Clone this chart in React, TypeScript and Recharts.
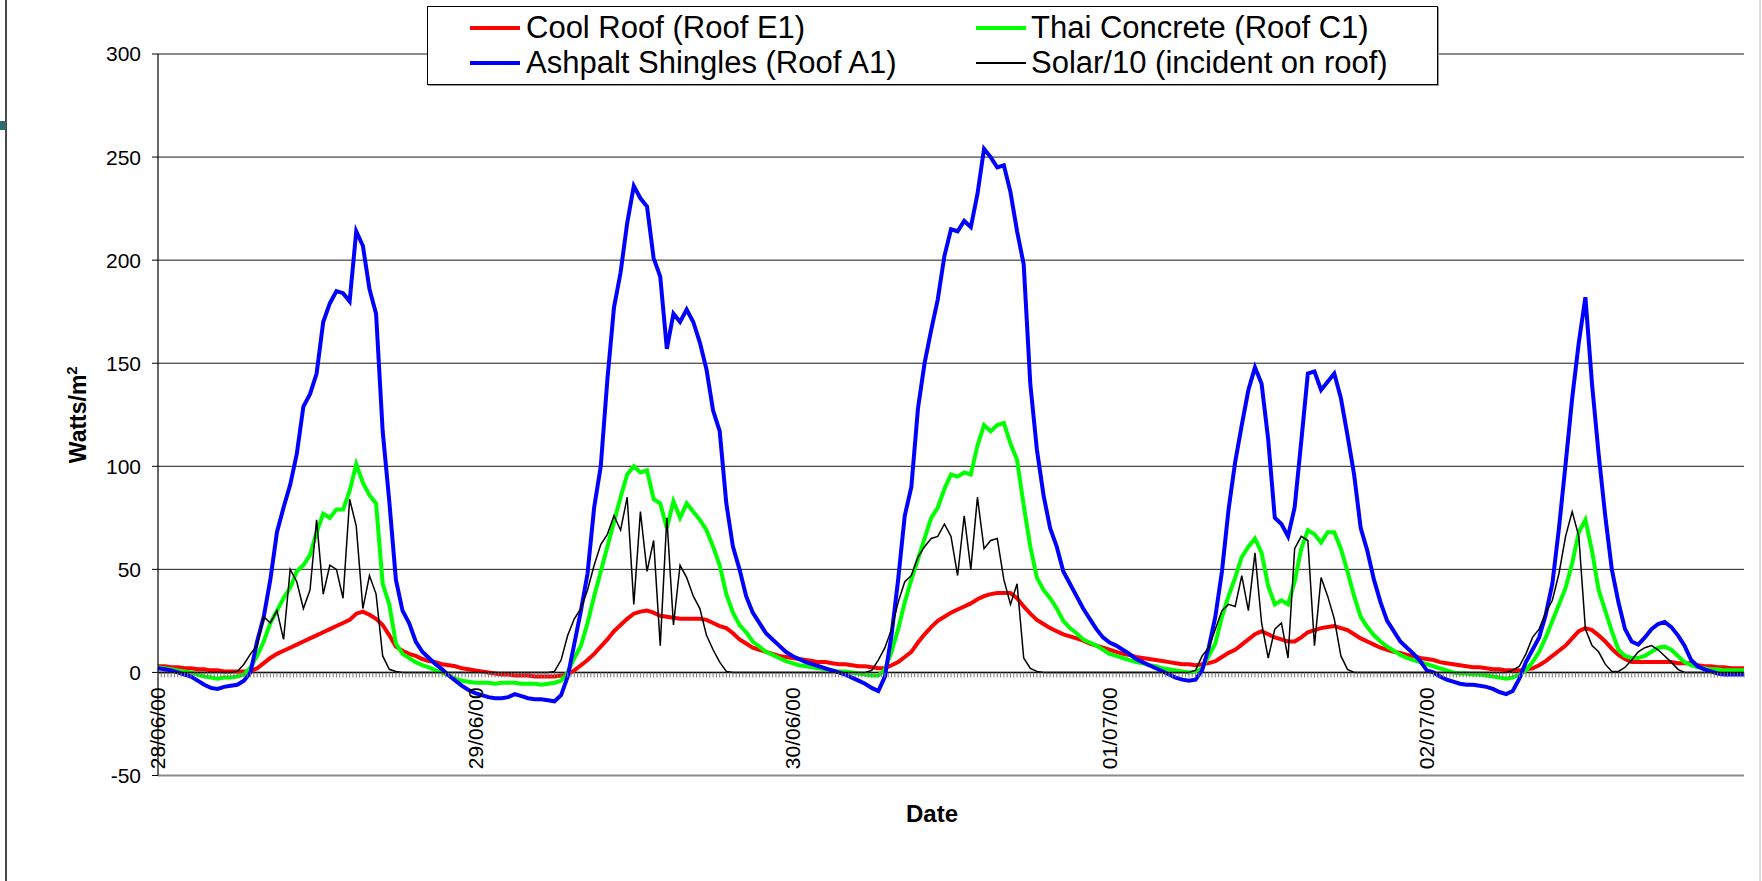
import {
  CartesianGrid,
  Legend,
  Line,
  LineChart,
  ReferenceLine,
  XAxis,
  YAxis,
} from "recharts";

// half-hourly readings, 28/06/00 00:00 -> 03/07/00 00:00
const dayLabels = ["28/06/00", "29/06/00", "30/06/00", "01/07/00", "02/07/00"];
const stepsPerDay = 48;
const yTicks = [-50, 0, 50, 100, 150, 200, 250, 300];
const seriesNames = [
  "Cool Roof (Roof E1)",
  "Thai Concrete (Roof C1)",
  "Ashpalt Shingles (Roof A1)",
  "Solar/10 (incident on roof)",
];

const coolRoof = [
  3, 3, 2.5, 2.5, 2, 2, 1.5, 1.5, 1, 1, 0.5, 0.5, 0.5, 0.5, 0.5, 2, 4.5, 7, 9, 10.5, 12, 13.5, 15, 16.5,
  18, 19.5, 21, 22.5, 24, 25.5, 28.5, 29.5, 28, 26, 23, 18, 12.5, 10.5, 9, 8, 6.5, 5.5, 5, 4, 3.5, 3, 2, 1.5,
  1, 0.5, 0, -0.5, -1, -1, -1.5, -1.5, -1.5, -2, -2, -2, -2, -1.5, -1, 1, 3.5, 6, 9, 12.5, 16, 20, 23, 26,
  28.5, 29.5, 30, 29, 27.5, 27, 26.5, 26, 26, 26, 26, 25.5, 24, 22.5, 21.5, 19, 16, 14, 12, 11, 10, 9, 8, 7.5,
  7, 6.5, 6, 5.5, 5, 5, 4.5, 4, 4, 3.5, 3, 3, 2.5, 2, 2, 3.5, 5, 7.5, 10, 14.5, 18.5, 22, 25, 27,
  29, 30.5, 32, 33.5, 35.5, 37, 38, 38.5, 38.5, 38.5, 36, 32, 28.5, 25.5, 23.5, 21.5, 20, 18.5, 17.5, 16.5, 15.5, 14, 13, 12,
  11, 10, 9, 8.5, 7.5, 7, 6.5, 6, 5.5, 5, 4.5, 4, 4, 3.5, 4, 4.5, 5.5, 7.5, 9.5, 11, 13.5, 16, 18.5, 20,
  18.5, 17, 16, 15, 15, 17, 19.5, 20.5, 21.5, 22, 22.5, 21.5, 20.5, 18.5, 16.5, 15, 13.5, 12, 11, 10, 9.5, 8.5, 8, 7,
  6.5, 6, 5, 4.5, 4, 3.5, 3, 2.5, 2.5, 2, 1.5, 1.5, 1, 1, 1, 1.5, 2, 3.5, 5.5, 8, 10.5, 13, 16.5, 20,
  21.5, 20.5, 18, 15, 11.5, 8.5, 6.5, 5, 5, 5, 5, 5, 5, 5, 4.5, 4.5, 4.5, 3.5, 3, 3, 2.5, 2.5, 2, 2,
  2,
];

const thaiConcrete = [
  2.5, 2, 1.5, 1, 0.5, 0, -1, -2, -2.5, -3, -2.5, -2.5, -2, -1, 2.5, 8, 15, 24, 30, 36, 41, 49, 52, 57,
  68, 77, 75, 79, 79, 88, 101, 92, 86, 82, 43, 33, 14, 9, 7, 5, 3.5, 2.5, 1, 0, -1.5, -3, -4, -4.5,
  -5, -5, -5, -5.5, -5, -5, -5, -5.5, -5.5, -5.5, -6, -5.5, -5, -4, 0, 7, 13, 24, 37, 49, 61, 73, 85, 96,
  100, 97, 98, 84, 82, 70, 83, 75, 82, 78, 74, 69, 61, 52, 38, 29, 23, 19.5, 15, 12.5, 10, 8.5, 7, 5.5,
  4.5, 3.5, 3, 2.5, 2, 1.5, 1, 0.5, 0.5, 0, -0.5, -1, -1.5, -1.5, 1.5, 10, 21, 34, 45, 55, 65, 75, 80, 89,
  96, 95, 97, 96, 110, 120, 117, 120, 121, 111, 103, 81, 61, 46, 40, 36, 31, 25, 21.5, 19, 16, 14.5, 13, 11,
  9, 8, 7, 6, 5, 4.5, 3.5, 3, 2, 1.5, 1, 0.5, 0, 0.5, 2, 8, 14, 27, 37, 46, 56, 61, 65, 58,
  42, 33, 35, 33, 44, 60, 69, 67, 63, 68, 68, 60, 49, 37, 27, 22, 18, 15, 12.5, 10.5, 8.5, 7, 6, 5,
  4, 3, 2, 1, 0, -0.5, -0.5, -1, -1, -1.5, -2, -2.5, -3, -2.5, -1, 1, 5, 10, 17, 25, 33, 41, 53, 68,
  74, 59, 40, 30, 20, 11, 8, 7, 7, 8, 10, 12, 12.5, 11, 8, 5, 3.5, 2.5, 2, 1.5, 1.5, 1, 1, 1,
  1,
];

const asphaltShingles = [
  2, 1.5, 1, 0, -1, -2, -4, -6, -7.5, -8, -7, -6.5, -6, -4, 0, 15, 27, 45, 68, 80, 91, 106, 129, 135,
  145, 170, 179, 185, 184, 180, 214, 207, 186, 174, 117, 83, 45, 30, 24, 15, 10, 7, 4, 1.5, -1.5, -4, -6.5, -8.5,
  -10, -11, -12, -12.5, -12.5, -12, -10.5, -11.5, -12.5, -13, -13, -13.5, -14, -11, -2, 14, 30, 48, 80, 100, 142, 177, 194, 218,
  236, 230, 226, 201, 192, 157, 174, 170, 176, 170, 160, 147, 127, 117, 82, 61, 50, 37, 29, 24, 19, 16, 13, 10,
  8, 6.5, 5, 4, 3, 2, 1, 0, -1, -2.5, -4, -5.5, -7.5, -9, -2, 18, 45, 76, 90, 128, 150, 166, 181, 202,
  215, 214, 219, 216, 232, 254, 250, 245, 246, 233, 214, 198, 140, 108, 86, 70, 61, 49, 43, 37, 31, 26, 21, 17,
  14.5, 13, 11, 9, 6.5, 5, 3.5, 2, 0.5, -1, -2.5, -3.5, -4, -3.5, 1, 12, 27, 49, 79, 102, 120, 137, 148, 140,
  113, 75, 72, 66, 80, 112, 145, 146, 137, 141, 145, 133, 115, 96, 70, 59, 45, 34, 25, 20, 15, 12, 9, 5.5,
  1, 0, -2, -3.5, -4.5, -5.5, -6, -6, -6.5, -7, -8, -9.5, -10.5, -9, -3, 5, 11, 17, 28, 43, 70, 101, 133, 160,
  182, 140, 106, 76, 50, 34, 21, 15, 13.5, 17, 21, 23.5, 24.5, 22, 18, 13, 6, 3, 1.5, 0.5, -0.5, -1, -1, -1,
  -1,
];

const solarTenth = [
  0, 0, 0, 0, 0, 0, 0, 0, 0, 0, 0, 0, 0.5, 4, 9, 13, 27, 24, 30, 16, 50, 44, 31, 40,
  74, 38, 52, 50, 36, 84, 71, 31, 47, 38, 8, 1.5, 0.5, 0, 0, 0, 0, 0, 0, 0, 0, 0, 0, 0,
  0, 0, 0, 0, 0, 0, 0, 0, 0, 0, 0, 0, 0.5, 6, 18, 26, 31, 40, 52, 62, 67, 76, 69, 85,
  33, 78, 49, 64, 13, 75, 23, 52, 46, 37, 31, 18, 11, 5, 0.5, 0, 0, 0, 0, 0, 0, 0, 0, 0,
  0, 0, 0, 0, 0, 0, 0, 0, 0, 0, 0, 0, 1, 6, 12, 21, 34, 44, 47, 56, 61, 65, 66, 72,
  66, 47, 76, 50, 85, 60, 64, 65, 45, 33, 43, 7, 2, 0.5, 0, 0, 0, 0, 0, 0, 0, 0, 0, 0,
  0, 0, 0, 0, 0, 0, 0, 0, 0, 0, 0, 0, 0, 1, 8, 12, 21, 30, 33, 32, 47, 30, 58, 24,
  7, 21, 24, 7, 60, 66, 64, 13, 46, 37, 26, 8, 1.5, 0, 0, 0, 0, 0, 0, 0, 0, 0, 0, 0,
  0, 0, 0, 0, 0, 0, 0, 0, 0, 0, 0, 0, 0, 1, 3, 9, 17, 21, 29, 35, 48, 66, 78, 66,
  21, 13, 10, 4, 0.5, 0.5, 2.5, 6, 10, 12, 13, 11, 8, 5, 1.5, 0, 0, 0, 0, 0, 0, 0, 0, 0,
  0,
];

const data = coolRoof.map((v, i) => ({
  step: i,
  cool: v,
  thai: thaiConcrete[i],
  asphalt: asphaltShingles[i],
  solar: solarTenth[i],
}));

// minor category ticks along the zero line
const minorTicks = Array.from({ length: 5 * stepsPerDay * 2 + 1 }, (_, k) => k / 2);

const PLOT_TOP = 54;
const PLOT_BOTTOM = 775.5;
const ZERO_UP = ((PLOT_BOTTOM - PLOT_TOP) * 50) / 350;

const FONT = "'Liberation Sans', Arial, sans-serif";

const XTick = (props: any) => {
  const { x, y, payload } = props;
  const y0 = y - ZERO_UP;
  const v = payload.value;
  const label = v % stepsPerDay === 0 ? dayLabels[v / stepsPerDay] : undefined;
  return (
    <g>
      <line x1={x} x2={x} y1={y0} y2={y0 + 5} stroke="#7a7a7a" strokeWidth={1} />
      {label && (
        <text
          transform={`translate(${x},${y0 + 15}) rotate(-90)`}
          textAnchor="end"
          dy="0.35em"
          fontSize={21}
          fill="#000"
          fontFamily={FONT}
        >
          {label}
        </text>
      )}
    </g>
  );
};

const YTitle = (props: any) => {
  const { viewBox } = props;
  const cy = viewBox.y + viewBox.height / 2;
  return (
    <text
      transform={`translate(78,${cy}) rotate(-90)`}
      textAnchor="middle"
      dy="0.35em"
      fontSize={23}
      fontWeight="bold"
      fill="#000"
      fontFamily={FONT}
    >
      Watts/m
      <tspan dy={-9} fontSize={15}>
        2
      </tspan>
    </text>
  );
};

const XTitle = (props: any) => {
  const { viewBox } = props;
  return (
    <text
      x={viewBox.x + viewBox.width / 2 - 19}
      y={PLOT_BOTTOM + 46}
      textAnchor="middle"
      fontSize={24}
      fontWeight="bold"
      fill="#000"
      fontFamily={FONT}
    >
      Date
    </text>
  );
};

const LegendBox = ({ payload }: any) => {
  const items = [...(payload || [])].sort(
    (a: any, b: any) => seriesNames.indexOf(a.value) - seriesNames.indexOf(b.value)
  );
  return (
    <div
      style={{
        position: "relative",
        width: 1011,
        height: 79,
        boxSizing: "border-box",
        border: "1px solid #000",
        boxShadow: "1px 1px 0 #9a9a9a",
        background: "#fff",
        fontFamily: FONT,
      }}
    >
      {items.map((entry: any, i: number) => {
        const col = i % 2;
        const row = Math.floor(i / 2);
        const sw = entry.payload?.strokeWidth ?? 2;
        const top = row === 0 ? 21 : 56;
        const swLeft = col === 0 ? 42 : 548;
        const txtLeft = col === 0 ? 98 : 603;
        return (
          <div key={entry.value}>
            <div
              style={{
                position: "absolute",
                left: swLeft,
                top: top - sw / 2,
                width: 50,
                height: sw,
                background: entry.color,
              }}
            />
            <div
              style={{
                position: "absolute",
                left: txtLeft,
                top: top - 18,
                fontSize: 31,
                lineHeight: "36px",
                color: "#000",
                whiteSpace: "nowrap",
              }}
            >
              {entry.value}
            </div>
          </div>
        );
      })}
    </div>
  );
};

export default function App() {
  return (
    <div
      style={{
        position: "absolute",
        left: 0,
        top: 0,
        width: 1762,
        height: 881,
        background: "#fff",
        fontFamily: FONT,
      }}
    >
      {/* slide frame leftovers */}
      <div style={{ position: "absolute", left: 5, top: 0, width: 2, height: 881, background: "#4a4a4a" }} />
      <div style={{ position: "absolute", left: 0, top: 121, width: 6, height: 9, background: "#2e6b6b" }} />
      <div style={{ position: "absolute", left: 1759, top: 0, width: 2, height: 881, background: "#dcdcdc" }} />

      <LineChart
        width={1762}
        height={881}
        data={data}
        margin={{ top: PLOT_TOP, right: 18, bottom: 881 - PLOT_BOTTOM - 1, left: 0 }}
      >
        <CartesianGrid horizontal vertical={false} stroke="#1a1a1a" strokeWidth={1} />
        <XAxis
          dataKey="step"
          type="number"
          domain={[0, 5 * stepsPerDay]}
          ticks={minorTicks}
          interval={0}
          height={1}
          axisLine={false}
          tickLine={false}
          tickSize={0}
          tickMargin={0}
          tick={<XTick />}
          label={{ content: XTitle }}
        />
        <YAxis
          width={158}
          domain={[-50, 300]}
          ticks={yTicks}
          interval={0}
          axisLine={{ stroke: "#000", strokeWidth: 1.2 }}
          tickLine={{ stroke: "#000" }}
          tickSize={6}
          tickMargin={11}
          tick={{ fill: "#000", fontSize: 21, fontFamily: FONT }}
          label={{ content: YTitle }}
        />
        <ReferenceLine y={-50} stroke="#8c8c8c" strokeWidth={2} />
        <ReferenceLine y={0} stroke="#000" strokeWidth={1.5} />
        <Legend
          verticalAlign="middle"
          align="center"
          layout="horizontal"
          wrapperStyle={{ left: 427, top: 6, width: 1011, height: 79 }}
          content={<LegendBox />}
        />
        <Line
          type="linear"
          dataKey="cool"
          name={seriesNames[0]}
          stroke="#ff0000"
          strokeWidth={4}
          dot={false}
          isAnimationActive={false}
        />
        <Line
          type="linear"
          dataKey="thai"
          name={seriesNames[1]}
          stroke="#00ff00"
          strokeWidth={4}
          dot={false}
          isAnimationActive={false}
        />
        <Line
          type="linear"
          dataKey="asphalt"
          name={seriesNames[2]}
          stroke="#0000ff"
          strokeWidth={4}
          dot={false}
          isAnimationActive={false}
        />
        <Line
          type="linear"
          dataKey="solar"
          name={seriesNames[3]}
          stroke="#000000"
          strokeWidth={1.5}
          dot={false}
          isAnimationActive={false}
        />
      </LineChart>
    </div>
  );
}
